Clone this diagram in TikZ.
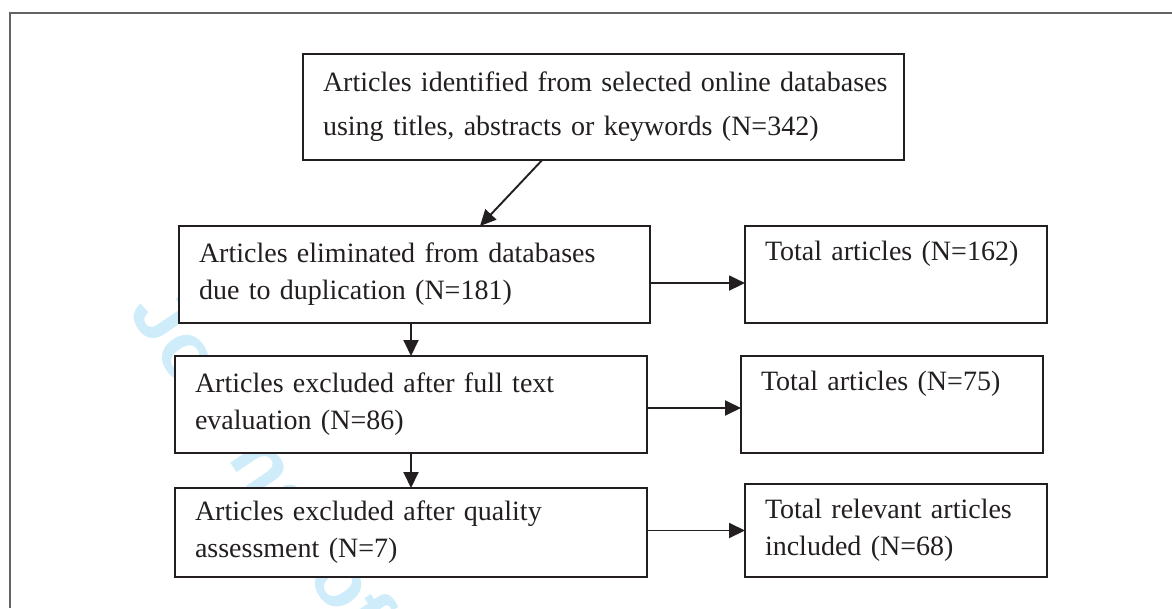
\documentclass[tikz,border=0pt]{standalone}
\usepackage{fontspec}
\setmainfont{Liberation Serif}
\newfontfamily\wmfont{Liberation Sans}
\usetikzlibrary{arrows.meta,calc}
\definecolor{wmblue}{RGB}{206,236,250}
\definecolor{frameg}{RGB}{100,100,100}
\definecolor{ink}{RGB}{35,31,32}
\begin{document}
\begin{tikzpicture}[x=1pt,y=-1pt,
  box/.style={draw=ink, line width=2.1pt, fill=white, rectangle, outer sep=0pt,
    inner xsep=20pt, inner ysep=0pt, align=left, text=ink,
    font=\fontsize{28}{37}\selectfont, anchor=north west},
  arr/.style={line width=1.9pt, draw=ink, -{Triangle[length=16pt,width=15pt]}}]
\useasboundingbox (0,0) rectangle (1172,608);
\fill[white] (0,0) rectangle (1172,608);
\draw[frameg, line width=1.6pt] (10,608) -- (10,13) -- (1172,13);
\node[rotate=-56, text=wmblue, font=\wmfont\bfseries\fontsize{82}{82}\selectfont, anchor=west] (wm) at (150,292) {Journal of};
\node[box, minimum width=601pt, minimum height=106pt, text width=561pt, font=\fontsize{28}{44}\selectfont] (b1) at (303,54)
  {\mbox{Articles identified from selected online databases}\\\mbox{using titles, abstracts or keywords (N=342)}};
\node[box, minimum width=471pt, minimum height=97pt, text width=431pt] (b2) at (179,226)
  {Articles eliminated from databases\\due to duplication (N=181)};
\node[box, minimum width=302pt, minimum height=97pt, text width=262pt] (b162) at (745,226)
  {Total articles (N=162)\\\strut};
\node[box, minimum width=472pt, minimum height=97pt, text width=432pt] (b3) at (175,356)
  {Articles excluded after full text\\evaluation (N=86)};
\node[box, minimum width=302pt, minimum height=97pt, text width=262pt] (b75) at (741,356)
  {Total articles (N=75)\\\strut};
\node[box, minimum width=472pt, minimum height=89pt, text width=432pt] (b4) at (175,488)
  {Articles excluded after quality\\assessment (N=7)};
\node[box, minimum width=302pt, minimum height=93pt, text width=262pt] (b68) at (745,484)
  {Total relevant articles\\included (N=68)};
\draw[arr] ($(b1.south west)!0.398!(b1.south east)$) -- ($(b2.north west)!0.639!(b2.north east)$);
\draw[arr] (b3.north |- b2.south) -- (b3.north);
\draw[arr] (b3.south) -- (b4.north);
\coordinate (a2) at ($(b2.north east)!0.588!(b2.south east)$);
\draw[arr] (a2) -- (a2 -| b162.west);
\coordinate (a3) at ($(b3.north east)!0.536!(b3.south east)$);
\draw[arr] (a3) -- (a3 -| b75.west);
\draw[arr] (b4.east |- b68.west) -- (b68.west);
\end{tikzpicture}
\end{document}
